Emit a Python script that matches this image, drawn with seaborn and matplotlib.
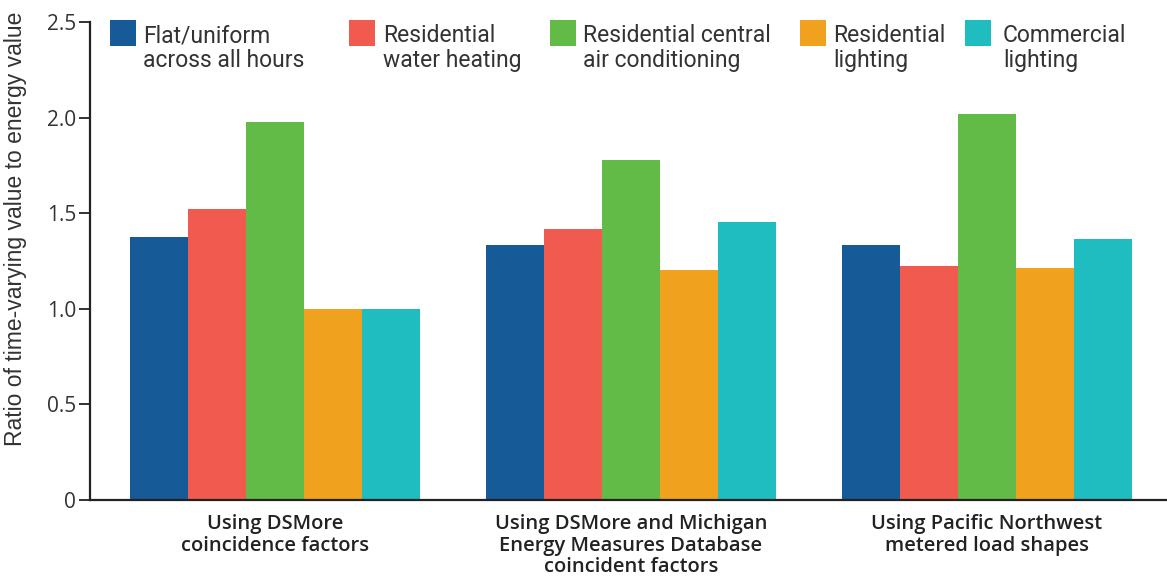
import matplotlib
matplotlib.use("Agg")
import matplotlib.pyplot as plt
import seaborn as sns
import pandas as pd
from matplotlib.patches import Rectangle

groups = ["Using DSMore\ncoincidence factors",
          "Using DSMore and Michigan\nEnergy Measures Database\ncoincident factors",
          "Using Pacific Northwest\nmetered load shapes"]
series = ["Flat/uniform\nacross all hours", "Residential\nwater heating",
          "Residential central\nair conditioning", "Residential\nlighting",
          "Commercial\nlighting"]
colors = ["#175a98", "#f15a4f", "#62bb47", "#f0a21f", "#20bdc0"]
flat = [1.375, 1.333, 1.333]
water = [1.52, 1.417, 1.224]
ac = [1.977, 1.778, 2.02]
reslight = [1.00, 1.203, 1.213]
comlight = [1.00, 1.454, 1.365]
yticks = [0, 0.5, 1.0, 1.5, 2.0, 2.5]
yticklabels = ["0", "0.5", "1.0", "1.5", "2.0", "2.5"]
ylabel = "Ratio of time-varying value to energy value"

rows = []
for s, vals in zip(series, [flat, water, ac, reslight, comlight]):
    for g, v in zip(groups, vals):
        rows.append({"group": g, "series": s, "value": v})
df = pd.DataFrame(rows)

sns.set_theme(style="white")
plt.rcParams['font.family'] = ['Open Sans', 'DejaVu Sans']

W, H = 1167, 584
fig = plt.figure(figsize=(W / 100, H / 100), dpi=100)
ax = fig.add_axes([90 / W, 84 / H, 1 - 90 / W, 478 / H])
sns.barplot(data=df, x="group", y="value", hue="series", order=groups,
            hue_order=series, palette=colors, width=0.815, saturation=1,
            ax=ax, legend=False, edgecolor="none", linewidth=0)

ax.set_xlim(-0.52, 2.506)
ax.set_ylim(0, 2.5)
ax.set_yticks(yticks)
ax.set_yticklabels(yticklabels, fontsize=15, color="#333333")
ax.tick_params(axis="y", direction="out", length=8, width=1.3, color="#222222", pad=2, left=True)
ax.tick_params(axis="x", length=0, pad=10)
for lab in ax.get_xticklabels():
    lab.set_fontsize(14.5)
    lab.set_fontweight("semibold")
    lab.set_color("#222222")
    lab.set_linespacing(1.12)
ax.set_xlabel("")
ax.set_ylabel("")
fig.text(16 / W, 1 - 229 / H, ylabel, rotation=90, ha="center", va="center",
         fontsize=16.5, family=["Liberation Sans", "DejaVu Sans"], color="#333333")
for sp in ["top", "right"]:
    ax.spines[sp].set_visible(False)
for sp in ["left", "bottom"]:
    ax.spines[sp].set_color("#222222")
    ax.spines[sp].set_linewidth(1.6)

# legend
hx = [110, 349, 550, 800, 965]
tx = [143, 383, 583, 833, 1003]
for c, s, x0, x1 in zip(colors, series, hx, tx):
    fig.patches.append(Rectangle((x0 / W, 1 - 46 / H), 26 / W, 26 / H,
                                 transform=fig.transFigure, facecolor=c, edgecolor="none"))
    fig.text(x1 / W, 1 - 24 / H, s, ha="left", va="top", fontsize=16.5,
             family=["Roboto", "DejaVu Sans"], color="#333333", linespacing=1.12)
fig.savefig("out.png", dpi=100, facecolor="white")
